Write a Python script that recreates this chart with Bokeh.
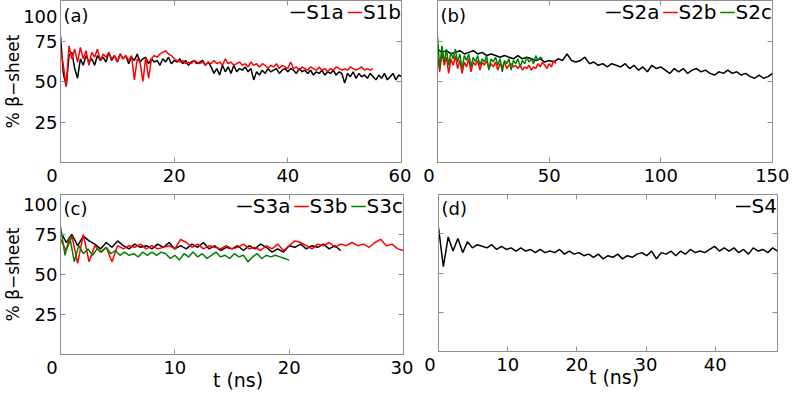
import numpy as np
from bokeh.plotting import figure
from bokeh.models import LinearAxis, FixedTicker, Legend, LegendItem, Label, Range1d
from bokeh.layouts import row, column
from bokeh.embed import file_html
from bokeh.resources import INLINE

# ---------------- data (% beta-sheet vs time in ns) ----------------
# panel (a)
s1a_end = 60.0
s1a = [78, 55, 47, 66, 68, 58, 52, 64, 60, 66,
       62, 64, 60, 66, 63, 65, 62, 68, 63, 66,
       62, 67, 64, 66, 61, 65, 63, 67, 62, 64,
       65, 61, 64, 62, 63, 60, 64, 62, 65, 61,
       63, 62, 64, 61, 63, 60, 62, 63, 61, 62,
       63, 60, 62, 59, 55, 58, 54, 60, 56, 59,
       55, 60, 56, 58, 57, 59, 56, 58, 51, 56,
       54, 57, 55, 58, 56, 57, 58, 55, 57, 58,
       56, 58, 57, 55, 58, 56, 57, 55, 57, 54,
       56, 55, 57, 54, 56, 55, 57, 54, 56, 55,
       49, 55, 53, 56, 52, 55, 53, 54, 52, 55,
       53, 51, 54, 52, 55, 51, 53, 55, 51, 54,
       53]
s1b_end = 55.0
s1b = [70, 60, 47, 72, 64, 70, 62, 71, 64, 69,
       60, 68, 65, 70, 63, 67, 65, 68, 64, 66,
       62, 67, 64, 66, 63, 66, 51, 64, 62, 50,
       65, 52, 64, 66, 65, 67, 68, 69, 67, 66,
       64, 63, 62, 63, 61, 62, 61, 63, 62, 61,
       62, 60, 62, 61, 63, 61, 62, 60, 64, 61,
       62, 60, 61, 62, 60, 61, 59, 62, 60, 61,
       59, 61, 60, 58, 60, 59, 61, 58, 60, 59,
       58, 62, 58, 59, 57, 59, 58, 57, 59, 58,
       57, 59, 57, 58, 56, 58, 57, 59, 58, 57,
       58, 57, 59, 58, 57, 58, 59, 57, 58, 57,
       58]
# panel (b)
s2a_end = 150.0
s2a = [70, 68, 69, 67, 68, 69, 67, 68, 69, 67, 68, 66, 67, 66, 65, 66, 65, 64, 66, 64,
       65, 64, 63, 64, 62, 63, 62, 64, 63, 67, 63, 62, 63, 65, 61, 62, 60, 61, 59, 61,
       60, 59, 61, 58, 60, 57, 59, 56, 60, 58, 59, 57, 55, 58, 56, 58, 55, 57, 58, 56,
       57, 55, 54, 56, 55, 57, 55, 56, 54, 55, 53, 52, 54, 52, 53, 55]
s2b_end = 53.0
s2b = [66, 56, 68, 60, 65, 55, 64, 60, 66, 58, 63, 55, 62, 59, 64, 56, 62, 60, 63, 57,
       62, 60, 63, 58, 61, 59, 62, 57, 61, 59, 62, 58, 60, 61, 59, 60, 58, 60, 57, 59,
       58, 60, 57, 59, 58, 61, 59, 62, 60, 58, 61, 59, 63, 61]
s2c_end = 47.0
s2c = [78, 58, 72, 62, 70, 60, 68, 64, 70, 62, 67, 58, 66, 63, 67, 59, 65, 62, 66, 60,
       64, 62, 66, 57, 64, 62, 65, 60, 64, 56, 63, 61, 64, 57, 63, 61, 64, 59, 63, 61,
       65, 62, 64, 61, 66, 63, 65, 64]
# panel (c)
s3a_end = 24.5
s3a = [77, 70, 75, 68, 74, 71, 69, 66, 70, 67, 71, 68, 66, 69, 67, 68, 66, 69, 67, 70,
       66, 68, 66, 69, 67, 70, 66, 68, 65, 67, 66, 68, 65, 68, 66, 69, 67, 64, 66, 64,
       68, 67, 69, 66, 68, 67, 69, 66, 68, 65]
s3b_end = 30.0
s3b = [72, 65, 74, 57, 75, 58, 68, 64, 67, 58, 68, 66, 68, 67, 69, 66, 68, 66, 67, 68,
       66, 72, 70, 67, 69, 66, 68, 67, 66, 68, 66, 67, 69, 66, 67, 65, 68, 66, 69, 65,
       68, 71, 70, 68, 66, 69, 68, 70, 67, 69, 68, 70, 68, 69, 67, 70, 72, 68, 69, 66, 65]
s3c_end = 20.0
s3c = [80, 62, 74, 58, 68, 63, 66, 62, 66, 64, 67, 63, 65, 62, 64, 62, 63, 61, 64, 62,
       64, 62, 64, 63, 60, 62, 59, 63, 61, 64, 61, 63, 60, 62, 64, 61, 62, 60, 63, 61,
       62, 58, 61, 63, 60, 62, 61, 62, 61, 60, 59]
# panel (d)
s4_end = 49.0
s4 = [79, 54, 73, 64, 72, 63, 70, 66, 68, 67, 66, 68, 65, 67, 65, 66, 64, 66, 64, 65,
      63, 65, 63, 64, 63, 65, 62, 64, 62, 63, 61, 62, 60, 62, 59, 61, 60, 62, 59, 61,
      60, 62, 63, 61, 64, 59, 63, 62, 64, 61, 64, 62, 65, 63, 64, 63, 65, 67, 64, 66,
      64, 66, 63, 65, 62, 66, 64, 65, 63, 66, 64]

y_ticks = [25, 50, 75, 100]
xa_ticks = [0, 20, 40, 60]
xb_ticks = [0, 50, 100, 150]
xc_ticks = [0, 10, 20, 30]
xd_ticks = [0, 10, 20, 30, 40]

FONT = "DejaVu Sans"
GRAY = "#8f8f8f"
BLACK = "#000000"
RED = "#ff0000"
GREEN = "#008000"


def series_t(vals, end):
    return np.linspace(0.0, end, len(vals))


def hidden_axis(ticks):
    return LinearAxis(ticker=FixedTicker(ticks=ticks), major_label_text_font_size="1px",
                      major_label_text_color=None, major_label_standoff=0,
                      major_tick_in=5, major_tick_out=0,
                      minor_tick_line_color=None, axis_line_color=None,
                      major_tick_line_color=GRAY)


def make_panel(xmax, xticks, fw, fh, bl, br, bt, bb, show_ylabels, xlabel, tag):
    p = figure(x_range=Range1d(0, xmax), y_range=Range1d(0, 100),
               frame_width=fw, frame_height=fh,
               min_border_left=bl, min_border_right=br,
               min_border_top=bt, min_border_bottom=bb,
               output_backend="svg", toolbar_location=None)
    p.xgrid.visible = False
    p.ygrid.visible = False
    p.outline_line_color = GRAY
    p.outline_line_width = 1
    p.background_fill_color = "white"
    p.border_fill_color = "white"

    for ax in p.xaxis:
        ax.ticker = FixedTicker(ticks=xticks)
        ax.major_tick_in = 5
        ax.major_tick_out = 0
        ax.minor_tick_line_color = None
        ax.axis_line_color = GRAY
        ax.major_tick_line_color = GRAY
        ax.major_label_text_font = FONT
        ax.major_label_text_font_size = "18px"
        ax.major_label_text_color = "black"
        ax.major_label_standoff = 2
        ax.major_label_overrides = {0: "0\u00a0\u00a0\u00a0"}
        if xlabel:
            ax.axis_label = "\u00a0\u00a0" + xlabel
            ax.axis_label_text_font = FONT
            ax.axis_label_text_font_size = "19px"
            ax.axis_label_text_font_style = "normal"
            ax.axis_label_text_color = "black"
            ax.axis_label_standoff = -12

    for ax in p.yaxis:
        ax.ticker = FixedTicker(ticks=y_ticks)
        ax.major_tick_in = 5
        ax.major_tick_out = 0
        ax.minor_tick_line_color = None
        ax.axis_line_color = GRAY
        ax.major_tick_line_color = GRAY
        ax.major_label_text_font = FONT
        if show_ylabels:
            ax.major_label_text_color = "black"
            ax.major_label_text_font_size = "18px"
            ax.major_label_standoff = 3
            # the top label sits just below the upper edge, as in the original
            ax.major_label_overrides = {100: "\n100"}
            ax.major_label_text_line_height = 0.25
            ax.axis_label = "% \u03b2\u2212sheet"
            ax.axis_label_text_font = FONT
            ax.axis_label_text_font_size = "17px"
            ax.axis_label_text_font_style = "normal"
            ax.axis_label_text_color = "black"
            ax.axis_label_standoff = -3
        else:
            ax.major_label_text_color = None
            ax.major_label_text_font_size = "1px"
            ax.major_label_standoff = 0

    p.add_layout(hidden_axis(y_ticks), "right")
    p.add_layout(hidden_axis(xticks), "above")

    p.add_layout(Label(x=0, y=91, x_offset=3, text=tag, text_font=FONT,
                       text_font_size="18px", text_baseline="middle", text_align="left",
                       text_color="black"))
    return p


def add_legend(p, items):
    leg = Legend(items=[LegendItem(label=n, renderers=[r]) for n, r in items],
                 location="top_right", orientation="horizontal",
                 background_fill_alpha=0, border_line_color=None,
                 label_text_font=FONT, label_text_font_size="20px",
                 label_text_color="black",
                 glyph_width=15, glyph_height=16, label_height=16,
                 label_standoff=1, spacing=3, padding=2, margin=0)
    p.add_layout(leg)


LW = 1.5

# (a)
pa = make_panel(60, xa_ticks, 341, 162, 55, 10, 0, 24, True, None, "(a)")
ra1 = pa.line(series_t(s1a, s1a_end), s1a, line_color=BLACK, line_width=LW)
ra2 = pa.line(series_t(s1b, s1b_end), s1b, line_color=RED, line_width=LW)
add_legend(pa, [("S1a", ra1), ("S1b", ra2)])

# (b)
pb = make_panel(150, xb_ticks, 335, 162, 26, 17, 0, 24, False, None, "(b)")
rb1 = pb.line(series_t(s2a, s2a_end), s2a, line_color=BLACK, line_width=LW)
rb2 = pb.line(series_t(s2b, s2b_end), s2b, line_color=RED, line_width=LW)
rb3 = pb.line(series_t(s2c, s2c_end), s2c, line_color=GREEN, line_width=LW)
add_legend(pb, [("S2a", rb1), ("S2b", rb2), ("S2c", rb3)])

# (c)
pc = make_panel(30, xc_ticks, 343, 160, 55, 10, 4, 34, True, "t (ns)", "(c)")
rc1 = pc.line(series_t(s3a, s3a_end), s3a, line_color=BLACK, line_width=LW)
rc2 = pc.line(series_t(s3b, s3b_end), s3b, line_color=RED, line_width=LW)
rc3 = pc.line(series_t(s3c, s3c_end), s3c, line_color=GREEN, line_width=LW)
add_legend(pc, [("S3a", rc1), ("S3b", rc2), ("S3c", rc3)])

# (d)
pd_ = make_panel(49, xd_ticks, 339, 157, 25, 12, 6, 35, False, "t (ns)", "(d)")
rd1 = pd_.line(series_t(s4, s4_end), s4, line_color=BLACK, line_width=LW)
add_legend(pd_, [("S4", rd1)])

layout = column(row(pa, pb), row(pc, pd_))

open("out.html", "w").write(file_html(layout, INLINE))
